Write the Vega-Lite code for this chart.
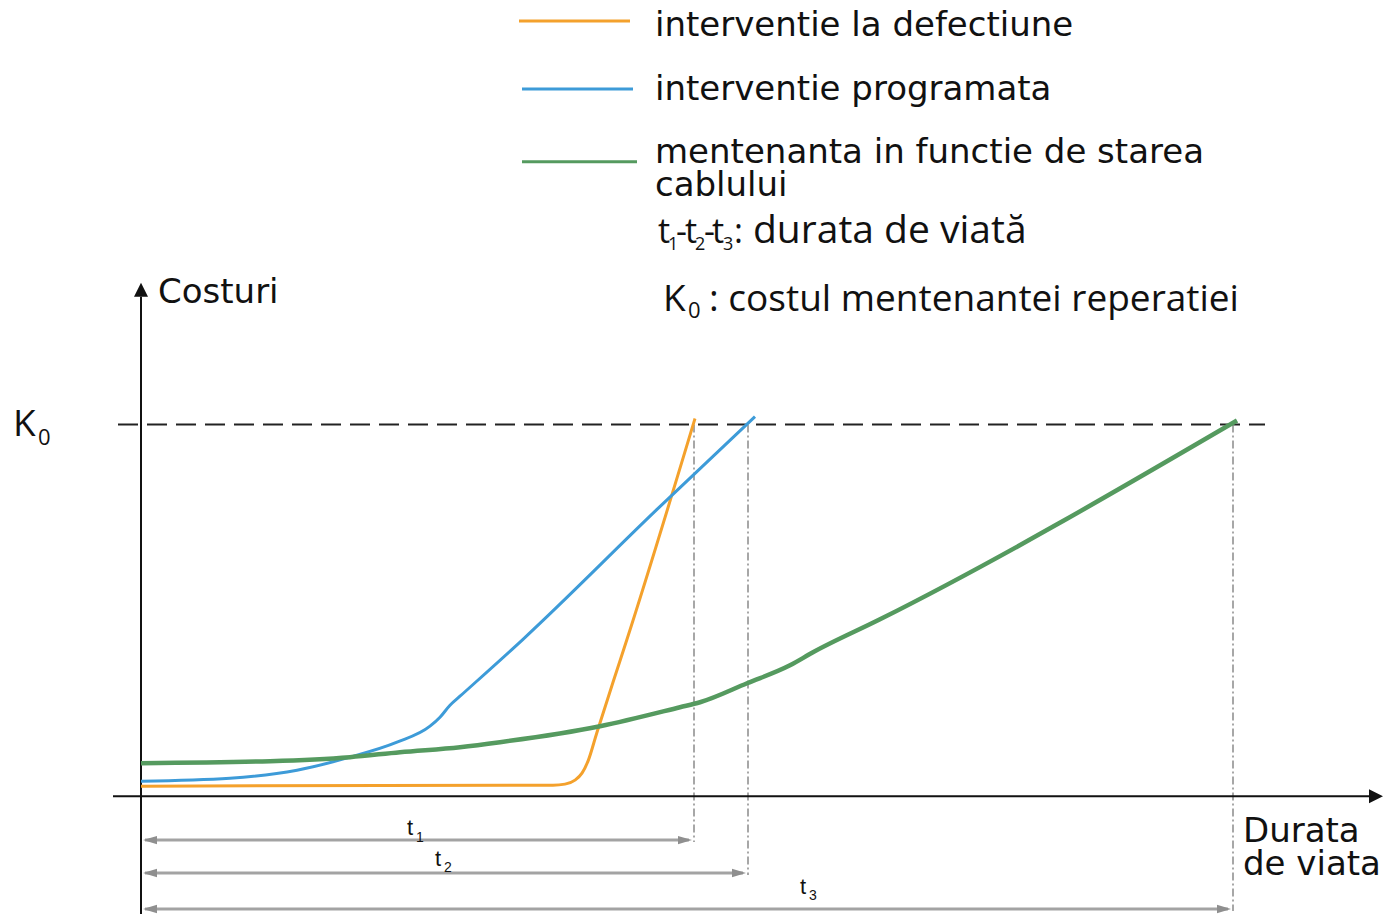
{
  "$schema": "https://vega.github.io/schema/vega-lite/v6.json",
  "width": 1385,
  "height": 915,
  "autosize": {"type": "fit", "contains": "padding"},
  "padding": 0,
  "background": "white",
  "config": {"view": {"stroke": null}},
  "datasets": {
    "curves": [
      {"s": "defect", "t": 0, "c": 10}, {"s": "defect", "t": 412, "c": 11}, {"s": "defect", "t": 424, "c": 12},
      {"s": "defect", "t": 434, "c": 16}, {"s": "defect", "t": 441, "c": 23}, {"s": "defect", "t": 447, "c": 35},
      {"s": "defect", "t": 456, "c": 64}, {"s": "defect", "t": 472, "c": 114}, {"s": "defect", "t": 486, "c": 157},
      {"s": "defect", "t": 554, "c": 378},
      {"s": "program", "t": 0, "c": 15}, {"s": "program", "t": 89, "c": 18}, {"s": "program", "t": 156, "c": 26},
      {"s": "program", "t": 209, "c": 39}, {"s": "program", "t": 256, "c": 54}, {"s": "program", "t": 289, "c": 70},
      {"s": "program", "t": 299, "c": 79}, {"s": "program", "t": 309, "c": 91}, {"s": "program", "t": 319, "c": 100},
      {"s": "program", "t": 382, "c": 157}, {"s": "program", "t": 516, "c": 287}, {"s": "program", "t": 614, "c": 380},
      {"s": "stare", "t": 0, "c": 33}, {"s": "stare", "t": 129, "c": 35}, {"s": "stare", "t": 209, "c": 39},
      {"s": "stare", "t": 259, "c": 44}, {"s": "stare", "t": 319, "c": 49}, {"s": "stare", "t": 359, "c": 54},
      {"s": "stare", "t": 459, "c": 70}, {"s": "stare", "t": 539, "c": 89}, {"s": "stare", "t": 559, "c": 94},
      {"s": "stare", "t": 606, "c": 113}, {"s": "stare", "t": 649, "c": 131}, {"s": "stare", "t": 672, "c": 144},
      {"s": "stare", "t": 739, "c": 177}, {"s": "stare", "t": 1096, "c": 376}
    ],
    "legendlines": [
      {"s": "defect", "t": 378, "t2": 489, "c": 776},
      {"s": "program", "t": 381, "t2": 492, "c": 708},
      {"s": "stare", "t": 381, "t2": 496, "c": 635}
    ]
  },
  "encoding": {
    "x": {"field": "t", "type": "quantitative", "scale": {"domain": [-141, 1244], "nice": false, "zero": false}, "axis": null},
    "y": {"field": "c", "type": "quantitative", "scale": {"domain": [-118, 797], "nice": false, "zero": false}, "axis": null}
  },
  "layer": [
    {
      "data": {"values": [{"t": -23, "t2": 1124, "c": 372}]},
      "mark": {"type": "rule", "color": "#222222", "strokeWidth": 2, "strokeDash": [20, 9]},
      "encoding": {"x2": {"field": "t2"}}
    },
    {
      "data": {"values": [
        {"t": 553, "c": 372, "c2": -46},
        {"t": 607, "c": 372, "c2": -79},
        {"t": 1092, "c": 372, "c2": -115}
      ]},
      "mark": {"type": "rule", "color": "#8a8a8a", "strokeWidth": 1.5, "strokeDash": [8, 3, 2, 3]},
      "encoding": {"y2": {"field": "c2"}}
    },
    {
      "data": {"values": [
        {"t": 4, "t2": 548, "c": -44},
        {"t": 4, "t2": 602, "c": -77},
        {"t": 4, "t2": 1087, "c": -113}
      ]},
      "mark": {"type": "rule", "color": "#a3a3a3", "strokeWidth": 3},
      "encoding": {"x2": {"field": "t2"}}
    },
    {
      "data": {"values": [
        {"d": "left", "t": 9, "c": -44}, {"d": "right", "t": 544, "c": -44},
        {"d": "left", "t": 9, "c": -77}, {"d": "right", "t": 598, "c": -77},
        {"d": "left", "t": 9, "c": -113}, {"d": "right", "t": 1083, "c": -113}
      ]},
      "mark": {"type": "point", "filled": true, "opacity": 1, "color": "#8f8f8f", "size": 196, "strokeWidth": 0},
      "encoding": {
        "shape": {"field": "d", "type": "nominal", "legend": null,
          "scale": {"domain": ["left", "right", "up", "east"], "range": ["M-1,0L1,-0.6L1,0.6Z", "M1,0L-1,-0.6L-1,0.6Z", "M0,-1L1,1L-1,1Z", "M1,0L-1,-1L-1,1Z"]}}
      }
    },
    {
      "data": {"values": [
        {"t": 0, "t2": 0, "c": -118, "c2": 500},
        {"t": -28, "t2": 1228, "c": 0, "c2": 0}
      ]},
      "mark": {"type": "rule", "color": "#111111", "strokeWidth": 2},
      "encoding": {"x2": {"field": "t2"}, "y2": {"field": "c2"}}
    },
    {
      "data": {"values": [
        {"d": "up", "t": 0, "c": 507},
        {"d": "east", "t": 1235, "c": 0}
      ]},
      "mark": {"type": "point", "filled": true, "opacity": 1, "color": "#111111", "size": 196, "strokeWidth": 0},
      "encoding": {
        "shape": {"field": "d", "type": "nominal", "legend": null,
          "scale": {"domain": ["left", "right", "up", "east"], "range": ["M-1,0L1,-0.6L1,0.6Z", "M1,0L-1,-0.6L-1,0.6Z", "M0,-1L1,1L-1,1Z", "M1,0L-1,-1L-1,1Z"]}}
      }
    },
    {
      "data": {"name": "curves"},
      "transform": [{"filter": "datum.s !== 'stare'"}],
      "mark": {"type": "line", "interpolate": "monotone", "strokeWidth": 3},
      "encoding": {
        "color": {"field": "s", "type": "nominal", "legend": null,
          "scale": {"domain": ["defect", "program", "stare"], "range": ["#f4a12c", "#3d9bd8", "#559a5f"]}}
      }
    },
    {
      "data": {"name": "curves"},
      "transform": [{"filter": "datum.s === 'stare'"}],
      "mark": {"type": "line", "interpolate": "monotone", "strokeWidth": 4.5},
      "encoding": {
        "color": {"field": "s", "type": "nominal", "legend": null,
          "scale": {"domain": ["defect", "program", "stare"], "range": ["#f4a12c", "#3d9bd8", "#559a5f"]}}
      }
    },
    {
      "data": {"name": "legendlines"},
      "mark": {"type": "rule"},
      "encoding": {
        "x2": {"field": "t2"},
        "color": {"field": "s", "type": "nominal", "legend": null,
          "scale": {"domain": ["defect", "program", "stare"], "range": ["#f4a12c", "#3d9bd8", "#559a5f"]}},
        "strokeWidth": {"field": "s", "type": "nominal", "legend": null,
          "scale": {"domain": ["defect", "program", "stare"], "range": [3, 3, 5]}}
      }
    },
    {
      "data": {"values": [
        {"label": "interventie la defectiune", "t": 514, "c": 761},
        {"label": "interventie programata", "t": 514, "c": 697},
        {"label": "mentenanta in functie de starea", "t": 514, "c": 634},
        {"label": "cablului", "t": 514, "c": 601},
        {"label": "Costuri", "t": 17, "c": 494},
        {"label": "Durata", "t": 1102, "c": -46},
        {"label": "de viata", "t": 1102, "c": -79}
      ]},
      "mark": {"type": "text", "font": "DejaVu Sans", "fontSize": 34, "align": "left", "baseline": "alphabetic", "color": "#111111"},
      "encoding": {"text": {"field": "label"}}
    },
    {
      "data": {"values": [
        {"label": "K", "t": 522, "c": 486},
        {"label": ": costul mentenantei reperatiei", "t": 568, "c": 486},
        {"label": "K", "t": -128, "c": 361}
      ]},
      "mark": {"type": "text", "font": "Open Sans", "fontSize": 37, "align": "left", "baseline": "alphabetic", "color": "#111111"},
      "encoding": {"text": {"field": "label"}}
    },
    {
      "data": {"values": [
        {"label": "durata de viată", "t": 612, "c": 554}
      ]},
      "mark": {"type": "text", "font": "Open Sans", "fontSize": 39, "align": "left", "baseline": "alphabetic", "color": "#111111"},
      "encoding": {"text": {"field": "label"}}
    },
    {
      "data": {"values": [
        {"label": "t", "t": 517, "c": 554},
        {"label": "-", "t": 535, "c": 554},
        {"label": "t", "t": 544, "c": 554},
        {"label": "-", "t": 563, "c": 554},
        {"label": "t", "t": 571, "c": 554},
        {"label": ":", "t": 593, "c": 554}
      ]},
      "mark": {"type": "text", "font": "Open Sans", "fontSize": 34, "align": "left", "baseline": "alphabetic", "color": "#111111"},
      "encoding": {"text": {"field": "label"}}
    },
    {
      "data": {"values": [
        {"label": "1", "t": 527, "c": 547},
        {"label": "2", "t": 554, "c": 547},
        {"label": "3", "t": 582, "c": 547}
      ]},
      "mark": {"type": "text", "font": "Open Sans", "fontSize": 18, "align": "left", "baseline": "alphabetic", "color": "#111111"},
      "encoding": {"text": {"field": "label"}}
    },
    {
      "data": {"values": [
        {"label": "0", "t": 547, "c": 479},
        {"label": "0", "t": -103, "c": 352}
      ]},
      "mark": {"type": "text", "font": "Open Sans", "fontSize": 22, "align": "left", "baseline": "alphabetic", "color": "#111111"},
      "encoding": {"text": {"field": "label"}}
    },
    {
      "data": {"values": [
        {"label": "t", "t": 266, "c": -39},
        {"label": "t", "t": 294, "c": -70},
        {"label": "t", "t": 659, "c": -98}
      ]},
      "mark": {"type": "text", "font": "Liberation Sans", "fontSize": 22, "align": "left", "baseline": "alphabetic", "color": "#111111"},
      "encoding": {"text": {"field": "label"}}
    },
    {
      "data": {"values": [
        {"label": "1", "t": 275, "c": -46},
        {"label": "2", "t": 303, "c": -76},
        {"label": "3", "t": 668, "c": -104}
      ]},
      "mark": {"type": "text", "font": "Liberation Sans", "fontSize": 14, "align": "left", "baseline": "alphabetic", "color": "#111111"},
      "encoding": {"text": {"field": "label"}}
    }
  ]
}
